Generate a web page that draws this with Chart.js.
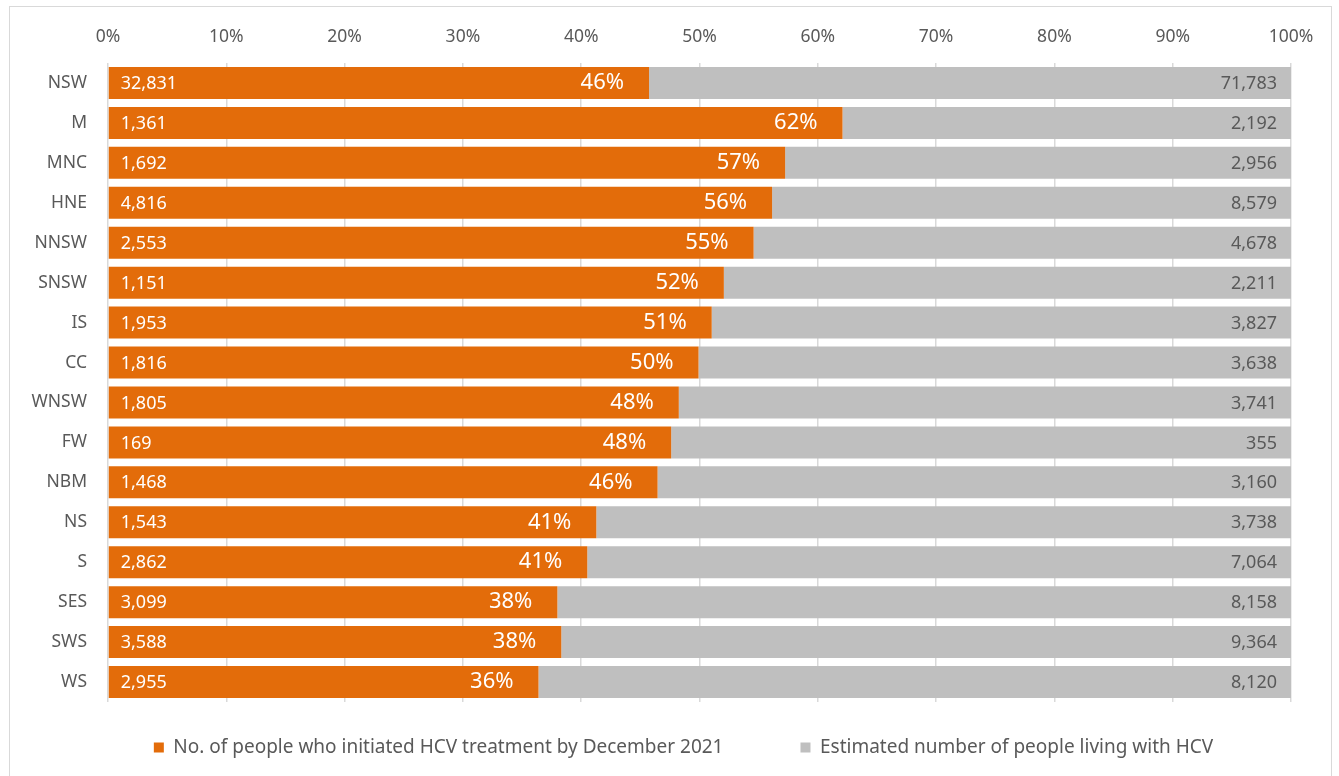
<!DOCTYPE html>
<html>
<head>
<meta charset="utf-8">
<script src="https://cdn.jsdelivr.net/npm/chart.js@4/dist/chart.umd.min.js"></script>
<style>
  body { margin: 0; background: #fff; }
  #wrap { position: absolute; left: 0; top: 0; width: 1339px; height: 776px; }
  #frame { position: absolute; left: 9px; top: 6px; width: 1321px; height: 790px; border: 1.5px solid #d9d9d9; }
</style>
</head>
<body>
<div id="frame"></div>
<div id="wrap"><canvas id="hcvChart" width="1339" height="776"></canvas></div>
<script>
// Vùng / khu vực y tế
const regions = ['NSW', 'M', 'MNC', 'HNE', 'NNSW', 'SNSW', 'IS', 'CC', 'WNSW', 'FW', 'NBM', 'NS', 'S', 'SES', 'SWS', 'WS'];
// Số người đã bắt đầu điều trị HCV
const treated = [32831, 1361, 1692, 4816, 2553, 1151, 1953, 1816, 1805, 169, 1468, 1543, 2862, 3099, 3588, 2955];
// Ước tính số người sống chung với HCV
const estimated = [71783, 2192, 2956, 8579, 4678, 2211, 3827, 3638, 3741, 355, 3160, 3738, 7064, 8158, 9364, 8120];
const tickValues = [0, 10, 20, 30, 40, 50, 60, 70, 80, 90, 100];

const FONT = '"Noto Sans", "Open Sans", sans-serif';
const TEXT = '#595959';

// Tỷ lệ đã điều trị (%) và phần còn lại
const sharePct = treated.map((t, i) => t / estimated[i] * 100);
const restPct = sharePct.map(p => 100 - p);

// Plugin vẽ nhãn trên thanh
const barLabels = {
    id: 'barLabels',
    afterDatasetsDraw(chart) {
        const ctx = chart.ctx;
        const m0 = chart.getDatasetMeta(0);
        const m1 = chart.getDatasetMeta(1);
        ctx.save();
        ctx.textBaseline = 'middle';
        m0.data.forEach((bar, i) => {
            ctx.fillStyle = '#ffffff';
            ctx.font = '18px ' + FONT;
            ctx.textAlign = 'left';
            ctx.fillText(treated[i].toLocaleString('en-US'), bar.base + 12, bar.y + 1);
            ctx.font = '22px ' + FONT;
            ctx.textAlign = 'right';
            ctx.fillText(Math.round(sharePct[i]) + '%', bar.x - 25, bar.y);
        });
        m1.data.forEach((bar, i) => {
            ctx.fillStyle = TEXT;
            ctx.font = '18px ' + FONT;
            ctx.textAlign = 'right';
            ctx.fillText(estimated[i].toLocaleString('en-US'), bar.x - 14, bar.y + 1);
        });
        ctx.restore();
    }
};

// Dời chú giải: khoảng cách rộng giữa hai mục mà không làm thấp vùng biểu đồ
const legendShift = {
    id: 'legendShift',
    afterLayout(chart) {
        const lg = chart.legend;
        lg.top -= 41;
        lg.bottom = chart.height;
        lg.height = lg.bottom - lg.top;
        lg.left += 38;
        lg.right += 38;
    }
};

new Chart(document.getElementById('hcvChart').getContext('2d'), {
    type: 'bar',
    data: {
        labels: regions,
        datasets: [{
            label: 'No. of people who initiated HCV treatment by December 2021',
            data: sharePct,
            backgroundColor: '#e36c0a',
            barPercentage: 0.8,
            categoryPercentage: 1.0
        }, {
            label: 'Estimated number of people living with HCV',
            data: restPct,
            backgroundColor: '#bfbfbf',
            barPercentage: 0.8,
            categoryPercentage: 1.0
        }]
    },
    options: {
        indexAxis: 'y',
        responsive: false,
        animation: false,
        layout: { padding: { left: 0, right: 48, top: 0, bottom: 12 } },
        scales: {
            x: {
                position: 'top',
                stacked: true,
                min: 0,
                max: 100,
                afterBuildTicks: s => { s.ticks = tickValues.map(v => ({ value: v })); },
                afterFit: s => { s.height = 63; },
                ticks: {
                    callback: v => v + '%',
                    color: TEXT,
                    font: { family: FONT, size: 17.5 },
                    padding: 15
                },
                grid: { color: '#d9d9d9', lineWidth: 1.5, drawTicks: false },
                border: { display: false }
            },
            y: {
                stacked: true,
                afterFit: s => { s.width = 108; },
                ticks: {
                    color: TEXT,
                    font: { family: FONT, size: 17.5 },
                    padding: 13
                },
                grid: { display: false },
                border: { display: false }
            }
        },
        plugins: {
            legend: {
                position: 'bottom',
                maxHeight: 62,
                labels: {
                    boxWidth: 10,
                    boxHeight: 10,
                    color: TEXT,
                    font: { family: FONT, size: 19 },
                    padding: 77
                }
            },
            tooltip: { enabled: false }
        }
    },
    plugins: [barLabels, legendShift]
});
</script>
</body>
</html>
